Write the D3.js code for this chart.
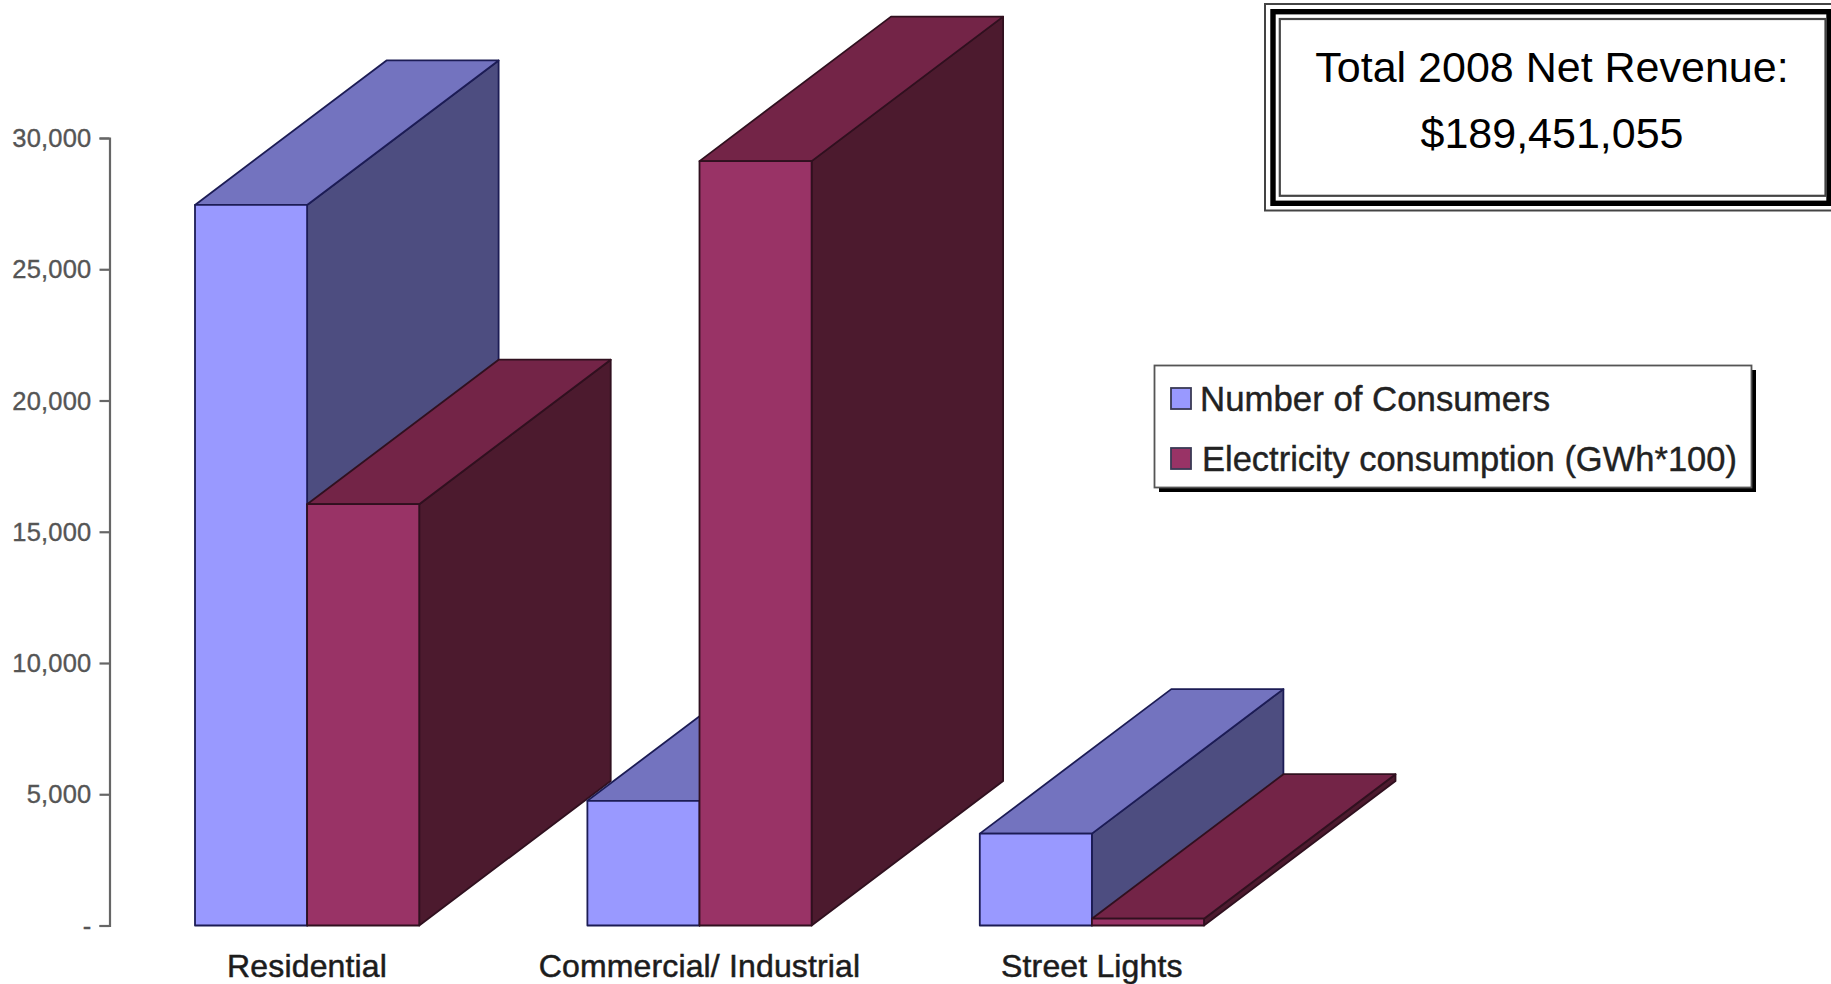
<!DOCTYPE html>
<html>
<head>
<meta charset="utf-8">
<title>2008 consumers and electricity consumption</title>
<script src="https://cdn.jsdelivr.net/npm/d3@7/dist/d3.min.js"></script>
<style>
  html, body { margin: 0; padding: 0; background: #fff; overflow: hidden; }
  svg { display: block; font-family: "Liberation Sans", Arial, sans-serif; }
</style>
</head>
<body>
<svg id="chart" width="1831" height="984"></svg>
<script>
// Chart data
const categories = ["Residential", "Commercial/ Industrial", "Street Lights"];
const seriesNames = ["Number of Consumers", "Electricity consumption (GWh*100)"];
const consumers = [27450, 4750, 3500];
const consumption = [16050, 29120, 260];
const yTicks = [0, 5000, 10000, 15000, 20000, 25000, 30000];
const revenueLines = ["Total 2008 Net Revenue:", "$189,451,055"];

const svg = d3.select("#chart");

// Scales
const y = d3.scaleLinear().domain([0, 30000]).range([925.5, 138]);
const xGroup = d3.scaleBand().domain(categories).range([195, 1204]).paddingInner(0.4286);
const xBar = d3.scaleBand().domain(seriesNames).range([0, xGroup.bandwidth()]);

// Oblique extrusion of each bar
const depthX = 191.5, depthY = 144.5;

const palette = [
  { front: "#9999ff", top: "#7373bf", side: "#4d4d80", edge: "#1c1c55" },
  { front: "#993366", top: "#732447", side: "#4c1a2e", edge: "#30101f" }
];
const values = [consumers, consumption];

const poly = pts => pts.map(p => p.join(",")).join(" ");

// Bars are painted left to right so nearer faces overlap those behind them
categories.forEach((cat, c) => {
  const g = svg.append("g").attr("class", "cluster");
  seriesNames.forEach((name, s) => {
    const col = palette[s];
    const x0 = xGroup(cat) + xBar(name);
    const x1 = x0 + xBar.bandwidth();
    const yTop = y(values[s][c]);
    const yBase = y(0);
    const faces = [
      { fill: col.side, pts: [[x1, yTop], [x1 + depthX, yTop - depthY], [x1 + depthX, yBase - depthY], [x1, yBase]] },
      { fill: col.top, pts: [[x0, yTop], [x0 + depthX, yTop - depthY], [x1 + depthX, yTop - depthY], [x1, yTop]] },
      { fill: col.front, pts: [[x0, yTop], [x1, yTop], [x1, yBase], [x0, yBase]] }
    ];
    g.selectAll(null).data(faces).enter().append("polygon")
      .attr("points", d => poly(d.pts))
      .attr("fill", d => d.fill)
      .attr("stroke", col.edge)
      .attr("stroke-width", 1.8)
      .attr("stroke-linejoin", "round");
  });
});

// Value axis
const yAxis = d3.axisLeft(y)
  .tickValues(yTicks)
  .tickSize(10)
  .tickPadding(8)
  .tickFormat(d => d === 0 ? "-" : d3.format(",")(d));

const axisG = svg.append("g").attr("transform", "translate(109.5,0)").call(yAxis);
axisG.selectAll("path, line").attr("stroke", "#666").attr("stroke-width", 2.2);
axisG.selectAll("text")
  .attr("fill", "#555")
  .attr("font-family", "'Liberation Sans', Arial, sans-serif")
  .attr("font-size", 25.5)
  .attr("dy", "0.34em")
  .style("letter-spacing", "0.2px")
  .style("stroke", "#555")
  .style("stroke-width", "0.35px");

// Category labels
svg.selectAll(".cat").data(categories).enter().append("text")
  .attr("class", "cat")
  .attr("x", d => xGroup(d) + xGroup.bandwidth() / 2)
  .attr("y", 977)
  .attr("text-anchor", "middle")
  .attr("font-size", 32)
  .attr("fill", "#1c1c1c")
  .attr("stroke", "#1c1c1c")
  .attr("stroke-width", 0.5)
  .style("letter-spacing", "0.15px")
  .text(d => d);

// Legend
const legend = svg.append("g").attr("class", "legend");
legend.append("rect").attr("x", 1159).attr("y", 370).attr("width", 597).attr("height", 122).attr("fill", "#000");
legend.append("rect").attr("x", 1154.5).attr("y", 365.5).attr("width", 597).attr("height", 122)
  .attr("fill", "#fff").attr("stroke", "#555").attr("stroke-width", 1.8);

const legendRows = legend.selectAll(".row").data(seriesNames).enter().append("g")
  .attr("class", "row")
  .attr("transform", (d, i) => `translate(0,${[388, 448][i]})`);
legendRows.append("rect")
  .attr("x", 1171).attr("y", 0).attr("width", 20).attr("height", 21)
  .attr("fill", (d, i) => palette[i].front)
  .attr("stroke", "#3a3a55").attr("stroke-width", 1.8);
legendRows.append("text")
  .attr("x", (d, i) => [1200, 1202][i])
  .attr("y", 11)
  .attr("dy", "0.35em")
  .attr("font-size", (d, i) => [34.8, 34.5][i])
  .attr("fill", "#222")
  .attr("stroke", "#222")
  .attr("stroke-width", 0.4)
  .text(d => d);

// Net revenue panel with its triple rule
const panel = svg.append("g").attr("class", "revenue");
panel.append("rect").attr("x", 1265).attr("y", 4).attr("width", 600).attr("height", 206.5)
  .attr("fill", "#fff").attr("stroke", "#444").attr("stroke-width", 2);
panel.append("rect").attr("x", 1273).attr("y", 11.7).attr("width", 556).attr("height", 191.6)
  .attr("fill", "none").attr("stroke", "#000").attr("stroke-width", 5.4);
panel.append("rect").attr("x", 1279.8).attr("y", 19).attr("width", 545.7).attr("height", 176.8)
  .attr("fill", "#fff").attr("stroke", "#444").attr("stroke-width", 2.2);
panel.selectAll("text").data(revenueLines).enter().append("text")
  .attr("x", 1552)
  .attr("y", (d, i) => [82, 148][i])
  .attr("text-anchor", "middle")
  .attr("font-size", 43)
  .attr("fill", "#000")
  .text(d => d);
</script>
</body>
</html>
